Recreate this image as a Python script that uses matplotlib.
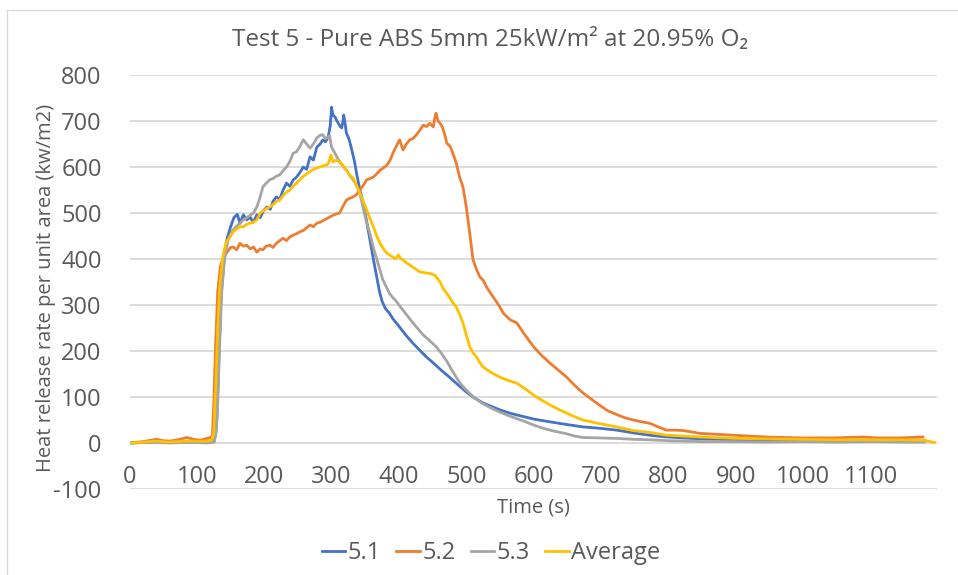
import matplotlib
matplotlib.use("Agg")
import matplotlib.pyplot as plt
from matplotlib.lines import Line2D

plt.rcParams['font.family'] = ['Open Sans', 'Noto Sans', 'DejaVu Sans']
plt.rcParams['axes.unicode_minus'] = False

# ---------------- data ----------------
t_51 = [0, 20, 40, 60, 80, 100, 115, 125, 128, 130, 133, 136, 140, 145, 150, 155, 160, 164, 169, 174,
        179, 184, 189, 194, 199, 204, 209, 213, 218, 223, 228, 233, 238, 243, 248, 253, 258, 263, 268,
        273, 278, 283, 287, 291, 295, 298, 300, 302, 305, 308, 310, 313, 315, 317, 318, 320, 322, 326,
        330, 334, 337, 342, 347, 352, 357, 362, 367, 371, 375, 380, 386, 391, 396, 401, 410, 420, 426,
        440, 451, 463, 475, 488, 500, 512, 525, 538, 550, 562, 575, 600, 624, 650, 673, 698, 723, 748,
        772, 790, 822, 850, 900, 950, 1000, 1050, 1100, 1150, 1180]
v_51 = [0, 1, 2, 1, 2, 1, 2, 3, 20, 60, 200, 320, 390, 445, 470, 490, 497, 478, 496, 485,
        491, 480, 496, 490, 505, 513, 508, 525, 535, 530, 550, 565, 558, 572, 578, 588, 600, 595, 622,
        615, 643, 650, 659, 655, 665, 690, 730, 712, 709, 700, 695, 688, 685, 700, 713, 695, 674, 660,
        637, 612, 587, 550, 522, 482, 441, 400, 361, 330, 308, 292, 282, 270, 261, 252, 235, 218, 209,
        188, 174, 158, 143, 126, 111, 98, 87, 79, 72, 66, 61, 52, 46, 40, 35, 32, 28, 22,
        17, 14, 11, 9, 7, 6, 6, 5, 6, 5, 5]

t_52 = [0, 20, 40, 50, 60, 75, 85, 95, 105, 115, 120, 123, 125, 128, 131, 135, 140, 145, 150, 154,
        159, 164, 169, 174, 179, 184, 189, 194, 198, 203, 208, 213, 218, 223, 228, 233, 238, 243, 248,
        253, 258, 263, 268, 273, 278, 283, 288, 293, 297, 302, 307, 312, 317, 322, 327, 332, 337, 342,
        347, 352, 357, 362, 367, 372, 377, 382, 387, 391, 396, 401, 403, 406, 411, 416, 421, 426, 431,
        436, 441, 446, 451, 453, 455, 458, 461, 464, 466, 469, 471, 476, 480, 485, 490, 495, 500, 505,
        510, 515, 520, 525, 530, 540, 548, 555, 565, 575, 585, 592, 600, 612, 624, 637, 649, 661, 673,
        686, 698, 710, 723, 735, 748, 760, 772, 785, 797, 810, 822, 835, 846, 870, 896, 920, 945, 970,
        995, 1020, 1044, 1065, 1088, 1110, 1143, 1160, 1178]
v_52 = [0, 3, 8, 5, 4, 8, 12, 8, 6, 10, 12, 15, 80, 220, 330, 385, 405, 415, 425, 426,
        420, 434, 428, 430, 422, 426, 415, 422, 420, 428, 430, 425, 434, 440, 445, 440, 448, 452, 455,
        459, 462, 468, 474, 470, 478, 480, 484, 488, 491, 495, 498, 500, 515, 528, 532, 535, 540, 550,
        560, 572, 575, 578, 585, 593, 598, 604, 615, 630, 645, 659, 650, 637, 650, 659, 662, 670, 680,
        691, 688, 695, 687, 705, 717, 700, 695, 688, 680, 665, 652, 645, 630, 609, 578, 557, 513, 457,
        398, 378, 361, 354, 339, 317, 300, 282, 268, 261, 239, 225, 209, 190, 174, 158, 143, 125, 109,
        95, 82, 70, 62, 55, 50, 46, 43, 35, 28, 28, 27, 24, 21, 19, 17, 15, 13, 12,
        11, 11, 11, 12, 13, 11, 11, 12, 13]

t_53 = [0, 20, 40, 60, 80, 100, 115, 126, 129, 131, 134, 137, 141, 146, 152, 158, 164, 169, 174, 179,
        184, 189, 194, 198, 203, 208, 213, 218, 223, 228, 233, 238, 243, 248, 253, 258, 263, 268, 273,
        278, 283, 287, 291, 295, 297, 300, 305, 312, 317, 322, 327, 332, 337, 342, 347, 352, 357, 362,
        367, 372, 376, 381, 386, 391, 396, 401, 408, 416, 426, 436, 446, 456, 463, 471, 478, 485, 492,
        500, 512, 525, 538, 550, 562, 575, 588, 600, 612, 624, 636, 649, 661, 673, 698, 723, 748, 772,
        800, 850, 900, 950, 1000, 1050, 1100, 1150, 1180]
v_53 = [0, 1, 1, 0, 1, 1, 0, 2, 30, 90, 220, 330, 400, 440, 460, 470, 478, 485, 490, 495,
        500, 513, 535, 557, 565, 572, 575, 580, 583, 592, 600, 612, 630, 633, 645, 659, 650, 641, 650,
        663, 669, 670, 662, 665, 668, 643, 630, 611, 602, 593, 582, 572, 560, 543, 510, 480, 455, 425,
        400, 375, 355, 340, 325, 316, 308, 298, 285, 270, 252, 235, 222, 208, 195, 178, 160, 143, 128,
        115, 98, 85, 75, 67, 60, 53, 46, 39, 33, 28, 24, 20, 15, 12, 11, 10, 8, 7,
        5, 3, 3, 2, 3, 2, 3, 2, 2]

t_avg = [0, 20, 40, 60, 80, 100, 115, 122, 125, 128, 131, 134, 138, 143, 149, 154, 159, 164, 169, 174,
         179, 184, 189, 194, 199, 204, 208, 213, 218, 223, 228, 233, 238, 243, 248, 253, 258, 263, 268,
         273, 278, 283, 288, 293, 296, 299, 302, 307, 312, 317, 322, 327, 332, 337, 342, 347, 352, 357,
         362, 367, 372, 377, 382, 387, 391, 395, 399, 403, 406, 411, 416, 421, 426, 431, 436, 441, 446,
         450, 453, 457, 461, 466, 471, 475, 480, 485, 490, 495, 500, 505, 510, 515, 520, 525, 537, 550,
         562, 575, 588, 600, 612, 624, 637, 649, 661, 673, 698, 723, 748, 772, 797, 822, 846, 900, 945,
         1000, 1044, 1100, 1143, 1180, 1195]
v_avg = [0, 2, 4, 2, 4, 4, 4, 6, 20, 120, 250, 340, 400, 435, 448, 459, 465, 470, 470, 475,
         478, 480, 485, 500, 505, 510, 513, 518, 525, 528, 538, 545, 550, 558, 565, 572, 580, 585, 590,
         595, 598, 600, 603, 604, 610, 626, 611, 615, 611, 603, 593, 582, 576, 560, 543, 525, 507, 488,
         470, 450, 434, 422, 413, 408, 404, 400, 409, 400, 398, 392, 387, 382, 377, 372, 371, 369, 369,
         366, 365, 358, 350, 335, 325, 317, 305, 296, 280, 261, 235, 209, 196, 187, 175, 165, 153, 143,
         136, 130, 117, 104, 93, 83, 73, 65, 57, 50, 42, 35, 27, 23, 17, 15, 13, 10, 9,
         8, 7, 7, 7, 6, 1]

series_labels = ["5.1", "5.2", "5.3", "Average"]
x_ticks = list(range(0, 1101, 100))
y_ticks = list(range(-100, 801, 100))
title_text = "Test 5 - Pure ABS 5mm 25kW/m\u00b2 at 20.95% O\u2082"
x_title = "Time (s)"
y_title = "Heat release rate per unit area (kw/m2)"

# ---------------- styling ----------------
colors = ["#4472C4", "#ED7D31", "#A5A5A5", "#FFC000"]
text_color = "#595959"
grid_color = "#D9D9D9"
W, H = 958, 575

fig = plt.figure(figsize=(W / 100, H / 100), dpi=100)
ax = fig.add_axes([129.5 / W, 1 - 489 / H, (936.5 - 129.5) / W, (489 - 75) / H])

series = [(t_51, v_51), (t_52, v_52), (t_53, v_53), (t_avg, v_avg)]
for (tt, vv), c, lab in zip(series, colors, series_labels):
    ax.plot(tt, vv, color=c, lw=2.0, label=lab, solid_joinstyle='round')

ax.set_xlim(0, 1198)
ax.set_ylim(-100, 800)
ax.set_xticks(x_ticks)
ax.set_yticks(y_ticks)
for s in ax.spines.values():
    s.set_visible(False)
ax.spines['bottom'].set_position(('data', 0))
ax.yaxis.grid(True, color=grid_color, lw=1.3)
ax.set_axisbelow(True)
ax.tick_params(axis='both', length=0, labelsize=17, labelcolor=text_color)
ax.tick_params(axis='x', pad=16)
ax.tick_params(axis='y', pad=20)

fig.text(490 / W, 1 - 40 / H, title_text, ha='center', va='center', fontsize=17.5, color=text_color)
fig.text(533 / W, 1 - 507 / H, x_title, ha='center', va='center', fontsize=14.5, color=text_color)
fig.text(46 / W, 1 - 288 / H, y_title, ha='center', va='center', rotation=90, fontsize=14.5,
         color=text_color)

handles = [Line2D([0], [0], color=c, lw=2.0) for c in colors]
fig.legend(handles, series_labels, loc='center', bbox_to_anchor=(491 / W, 1 - 553 / H), ncol=4,
           frameon=False, fontsize=17, handlelength=1.0, handletextpad=0.1, columnspacing=0.65,
           labelcolor=text_color)

# chart border (left & top visible in the crop)
fig.add_artist(Line2D([7 / W, 7 / W], [0, 1 - 10 / H], color=grid_color, lw=1.0, transform=fig.transFigure))
fig.add_artist(Line2D([7 / W, 1], [1 - 10 / H, 1 - 10 / H], color=grid_color, lw=1.0, transform=fig.transFigure))

fig.savefig("out.png", dpi=100)
